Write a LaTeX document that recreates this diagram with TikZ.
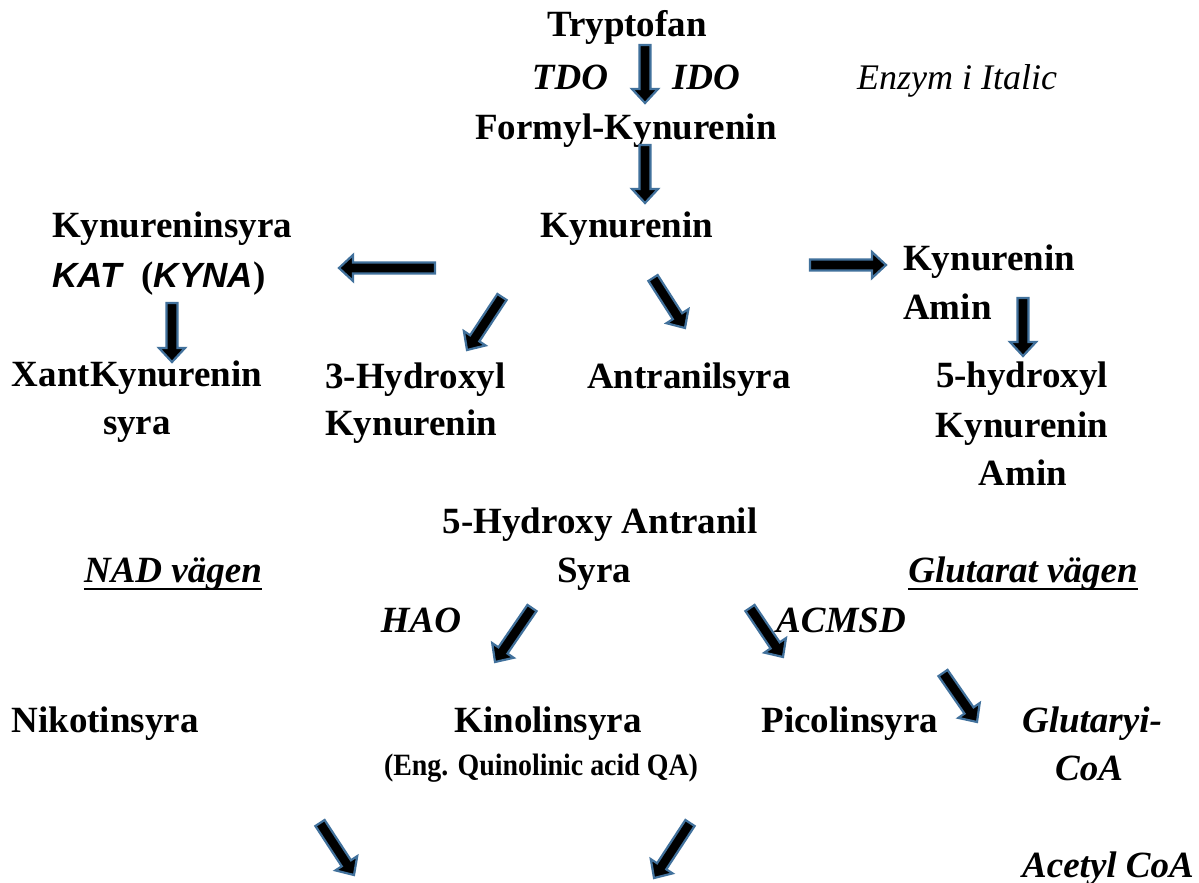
\documentclass[tikz,border=0pt]{standalone}
\usepackage{fontspec}
\usepackage{graphicx}
\setmainfont{Liberation Serif}
\newfontfamily\arialf{Liberation Sans}
\usetikzlibrary{calc}
\definecolor{arrowedge}{HTML}{41719C}
\tikzset{
  lbl/.style={font=\fontsize{37}{44}\selectfont\bfseries, inner sep=0pt, anchor=base},
  enz/.style={font=\fontsize{37}{44}\selectfont\bfseries\itshape, inner sep=0pt, anchor=base},
  note/.style={font=\fontsize{36}{44}\selectfont\itshape, inner sep=0pt, anchor=base},
  smalllbl/.style={font=\fontsize{31}{36}\selectfont\bfseries, inner sep=0pt, anchor=base},
  barrow/.style={fill=black, draw=arrowedge, line width=2.2pt, line join=miter},
  uline/.style={line width=2.8pt}
}
\newcommand\blockarrow[3]{%
  \coordinate (#1s) at #2;
  \coordinate (#1e) at #3;
  \path[barrow] let \p1=(#1s), \p2=(#1e),
    \n1={atan2(\y2-\y1,\x2-\x1)}, \n2={veclen(\x2-\x1,\y2-\y1)} in
    [shift={(\p1)}, rotate=\n1]
    (0,-5.5) -- ({\n2-14},-5.5) -- ({\n2-14},-13) -- (\n2,0)
    -- ({\n2-14},13) -- ({\n2-14},5.5) -- (0,5.5) -- cycle;
}
\begin{document}
\begin{tikzpicture}[x=1pt,y=-1pt]
\useasboundingbox[fill=white] (0,0) rectangle (1199,883);

% top
\node[lbl] (tryp) at (627,37) {Tryptofan};
\node[enz] (tdo) at (570,89) {TDO};
\node[enz] (ido) at (706,89) {IDO};
\node[note] (enzym) at (957,89) {Enzym i Italic};
\node[lbl] (formyl) at (626,139) {Formyl-Kynurenin};
\node[lbl] (kyn) at (627,237) {Kynurenin};

% left branch
\node[lbl] (kynsyra) at (172,237) {Kynureninsyra};
\node[lbl, anchor=base west] (kat) at (52,287)
  {{\arialf\itshape\fontsize{35}{40}\selectfont KAT}\hspace{20pt}({\arialf\itshape\fontsize{35}{40}\selectfont KYNA})};
\node[lbl] (xant1) at (137,386) {XantKynurenin};
\node[lbl] (xant2) at (137,434) {syra};

% middle
\node[lbl, anchor=base west] (hyd1) at (325,388) {3-Hydroxyl};
\node[lbl, anchor=base west] (hyd2) at (325,435) {Kynurenin};
\node[lbl] (antr) at (689,388) {Antranilsyra};

% right branch
\node[lbl, anchor=base west] (kamin1) at (903,270) {Kynurenin};
\node[lbl, anchor=base west] (kamin2) at (903,319) {Amin};
\node[lbl] (hk1) at (1022,387) {5-hydroxyl};
\node[lbl] (hk2) at (1022,437) {Kynurenin};
\node[lbl] (hk3) at (1023,485) {Amin};

% lower part
\node[lbl] (hant1) at (600,533) {5-Hydroxy Antranil};
\node[lbl] (hant2) at (594,582) {Syra};
\node[enz] (nad) at (173,582) {NAD vägen};
\node[enz] (glut) at (1023,582) {Glutarat vägen};
\draw[uline] ([yshift=-7pt]nad.base west) -- ([yshift=-7pt]nad.base east);
\draw[uline] ([yshift=-7pt]glut.base west) -- ([yshift=-7pt]glut.base east);
\node[enz] (hao) at (421,632) {HAO};
\node[enz] (acmsd) at (841,632) {ACMSD};

\node[lbl] (nik) at (105,732) {Nikotinsyra};
\node[lbl] (kino) at (548,732) {Kinolinsyra};
\node[smalllbl] (eng) at (541,775) {\scalebox{0.9}[1]{(Eng. Quinolinic acid QA)}};
\node[lbl] (pico) at (850,732) {Picolinsyra};
\node[enz] (glu1) at (1092,732) {Glutaryi-};
\node[enz] (glu2) at (1089,780) {CoA};
\node[enz, anchor=base west] (acetyl) at (1022,877) {Acetyl CoA};

% block arrows
\blockarrow{a1}{(645,45)}{(645,103)}
\blockarrow{a2}{(645,145)}{(645,203)}
\blockarrow{aL}{(435,268)}{(339,268)}
\blockarrow{aSW}{(502,297)}{(467,350)}
\blockarrow{aSE}{(653,278)}{(685,328)}
\blockarrow{aR}{(810,265)}{(886,265)}
\blockarrow{aKD}{(172,303)}{(172,362)}
\blockarrow{aRD}{(1023,298)}{(1023,356)}
\blockarrow{aHAO}{(532,608)}{(495,662)}
\blockarrow{aACM}{(750,608)}{(783,657)}
\blockarrow{aGlu}{(943,673)}{(977,722)}
\blockarrow{aB1}{(320,823)}{(354,875)}
\blockarrow{aB2}{(690,823)}{(654,878)}
\end{tikzpicture}
\end{document}
